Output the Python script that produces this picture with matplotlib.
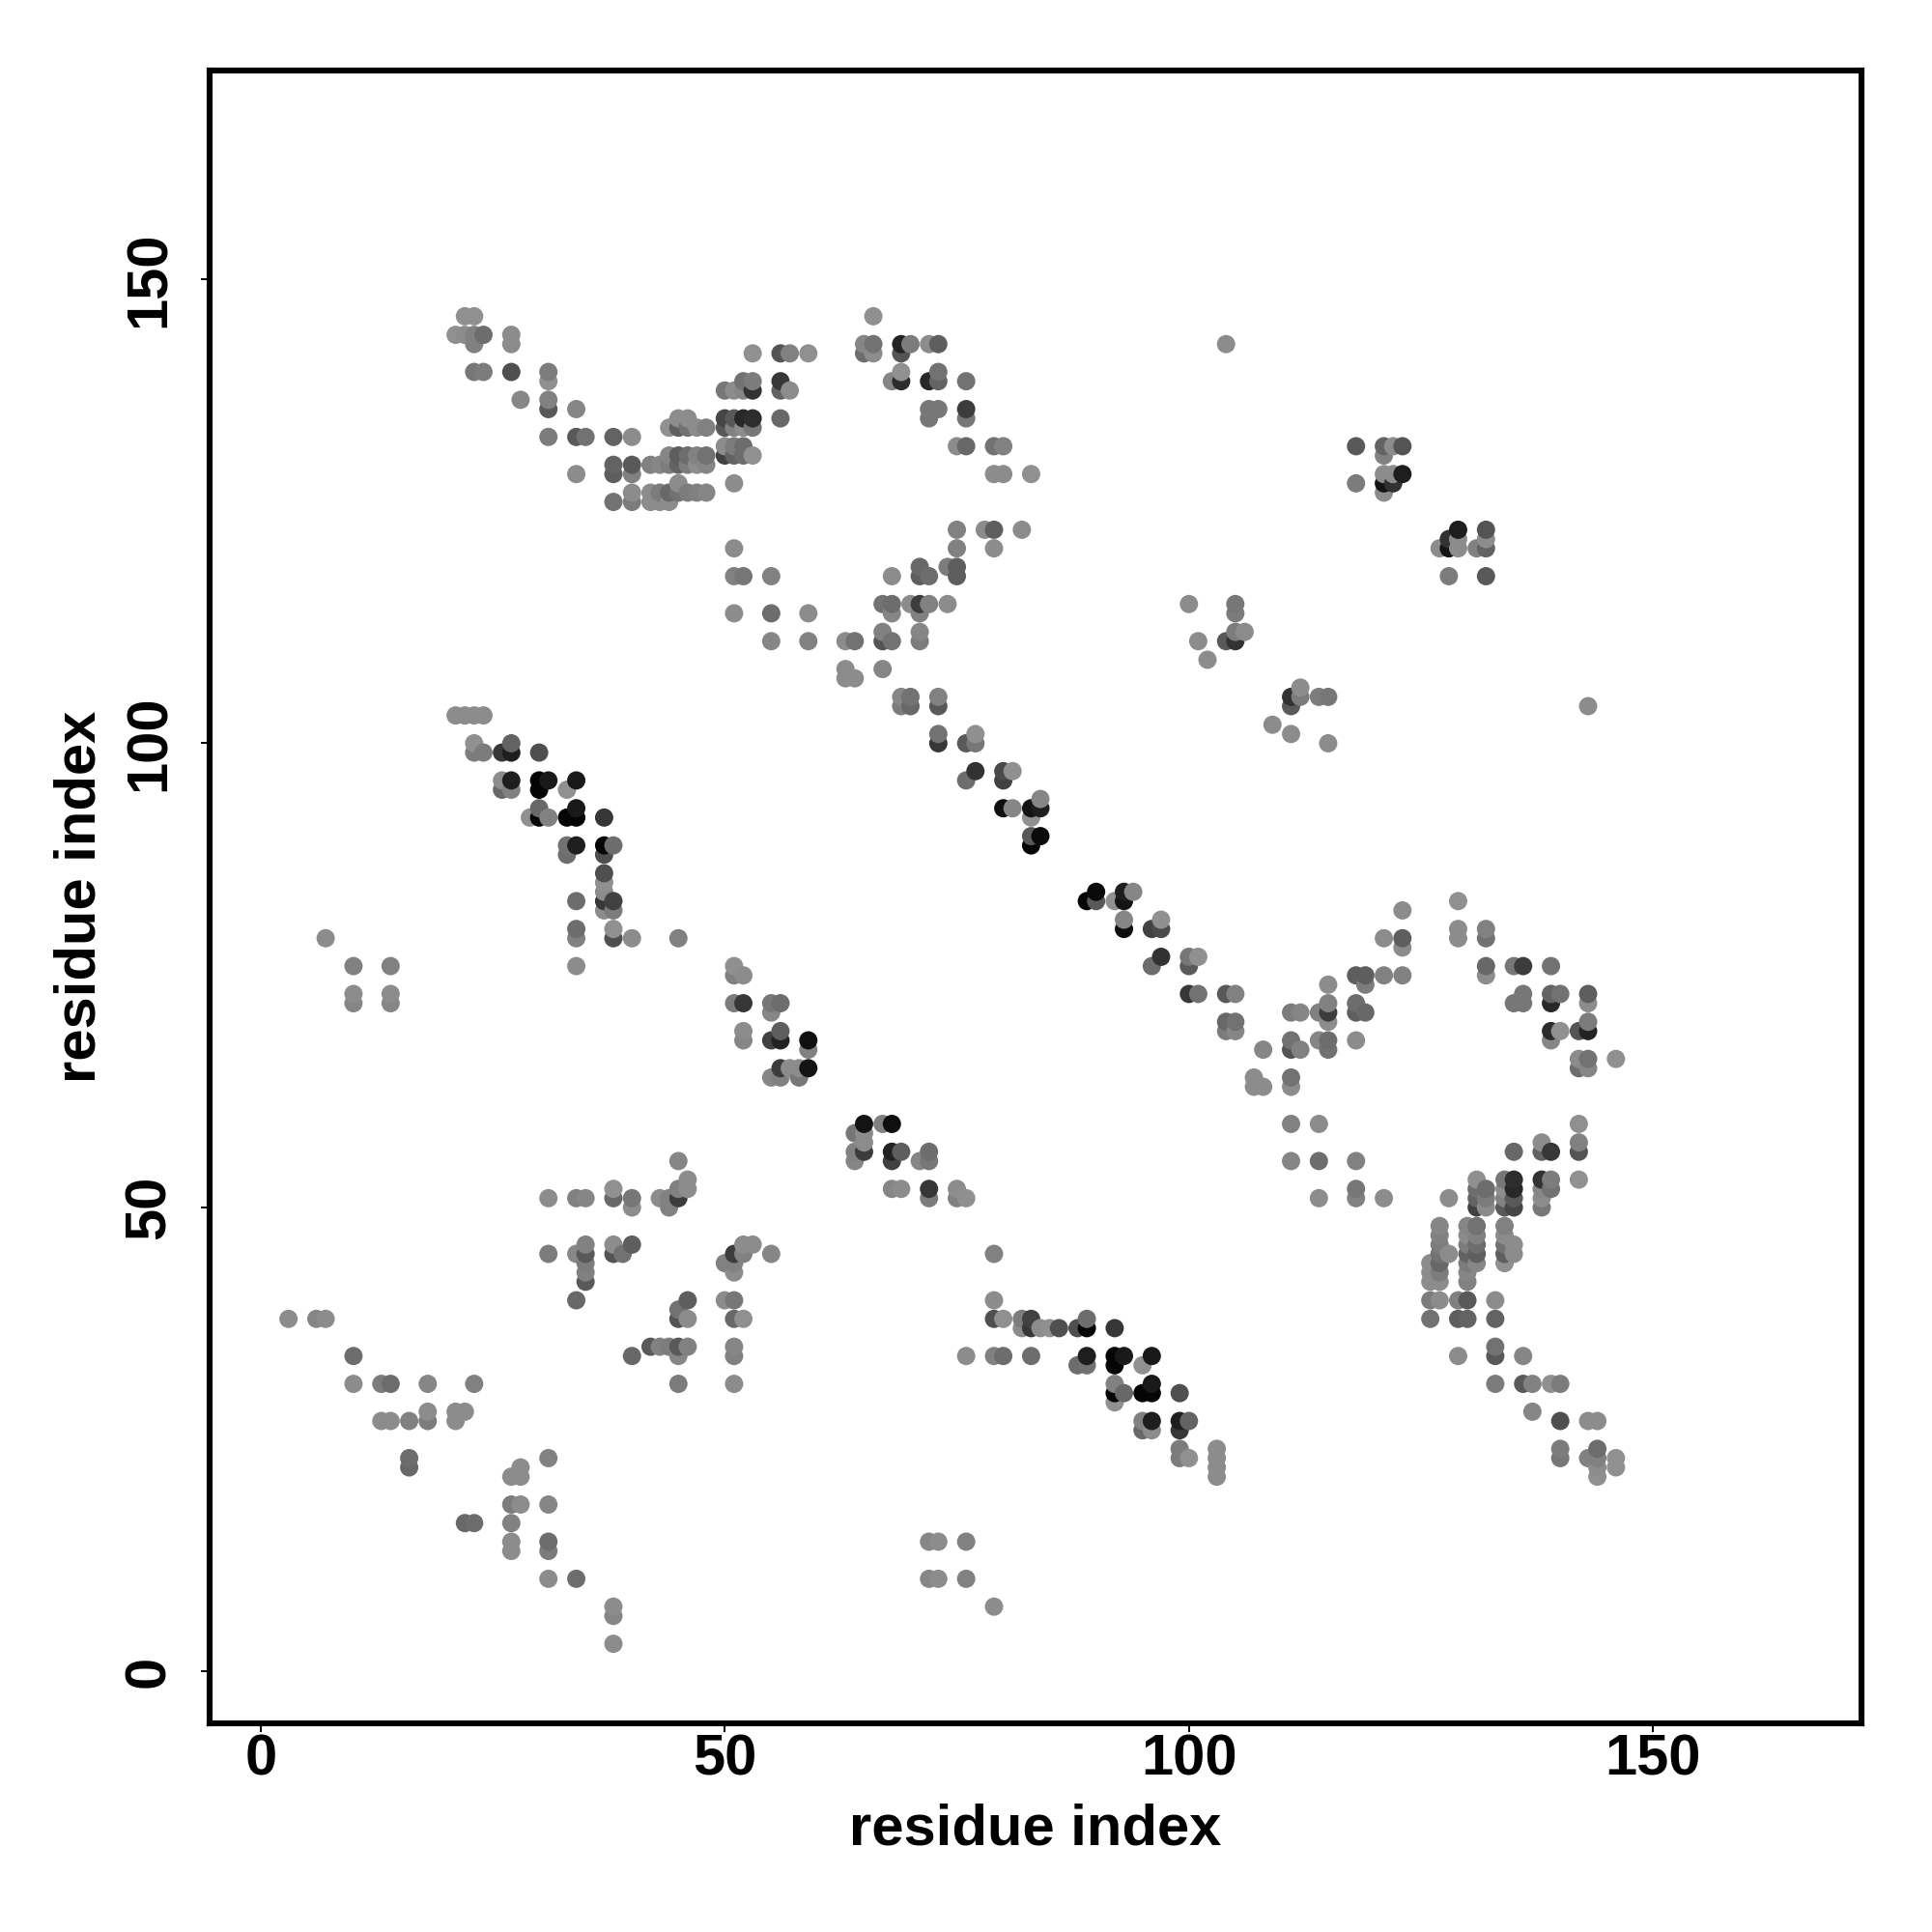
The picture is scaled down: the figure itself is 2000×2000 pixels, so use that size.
#!/usr/bin/env python
# -*- coding:utf-8 -*-
"""
Residue contact map, greys show the contact score
"""

import matplotlib
matplotlib.use('Agg')
import matplotlib.pyplot as plt
import pandas as pd

# one entry per row of the map (upper triangle), the map is symmetric
row_index = [146, 144, 143, 142, 140, 139, 138, 137, 136, 135, 134, 133, 132, 131, 130, 129,
             128, 127, 126, 123, 122, 121, 119, 118, 115, 114, 112, 111, 109, 108, 107, 106,
             105, 104, 103, 102, 101, 100, 99, 97, 96, 95, 94, 93, 92, 90, 89, 88, 86, 85,
             84, 83, 82, 81, 80, 79, 78, 77, 76, 75, 74, 73, 72, 71, 70, 69, 68, 67, 66, 65,
             64, 63, 55, 53, 52, 51, 50, 46, 45, 44, 43, 42, 40, 38, 34, 31, 28, 27, 23, 22]

row_members = [
    [22, 23, 66],
    [21, 22, 23, 24, 27],
    [23, 27, 65, 66, 69, 70, 72, 73, 104],
    [53, 56, 57, 59, 65, 66, 69],
    [23, 24, 27, 31, 69, 73],
    [31, 52, 53, 56, 68, 69, 72, 73, 76],
    [50, 51, 52, 53, 56, 57],
    [28, 31],
    [31, 34, 72, 73, 76],
    [45, 46, 50, 51, 52, 53, 56, 72, 76],
    [44, 45, 46, 47, 48, 50, 51, 52, 53],
    [31, 34, 35, 38, 40],
    [50, 51, 52, 75, 76, 79, 80, 118, 121, 122, 123],
    [44, 45, 46, 47, 48, 50, 51, 52, 53, 121],
    [38, 40, 42, 43, 44, 45, 46, 47, 48],
    [34, 38, 40, 79, 80, 83, 121, 122, 123],
    [45, 51, 118, 121, 122],
    [40, 42, 43, 44, 45, 46, 47, 48, 121],
    [38, 40, 42, 43, 44],
    [75, 78, 79, 82, 129, 132],
    [128, 129, 132],
    [51, 75, 79, 127, 128, 129, 131, 132],
    [71, 74, 75],
    [51, 52, 55, 68, 71, 72, 75, 128, 132],
    [67, 68, 70, 71, 72, 74, 100, 105],
    [51, 55, 59, 68, 71, 105],
    [67, 71, 105, 106],
    [55, 59, 63, 64, 67, 68, 71, 101, 104, 105],
    [102],
    [63, 67],
    [63, 64],
    [112],
    [69, 70, 73, 111, 112, 114, 115],
    [69, 70, 73, 111, 143],
    [21, 22, 23, 24],
    [109],
    [73, 77, 111],
    [23, 27, 73, 76, 77, 115],
    [23, 24, 26, 27, 30],
    [77, 80, 81],
    [26, 27, 30, 31, 34, 76, 80],
    [26, 27, 30, 33],
    [84],
    [30, 34, 80, 81, 83, 84],
    [29, 30, 31, 33, 34, 37, 83],
    [83, 84],
    [33, 34, 37, 38, 83],
    [33, 37],
    [37],
    [37],
    [37, 90, 93, 94],
    [34, 37, 38, 89, 90, 92, 93, 129],
    [37, 38, 123],
    [93, 97],
    [34, 38, 93, 96, 97, 129, 132],
    [7, 34, 38, 40, 45, 121, 123, 129, 132],
    [123],
    [97, 100, 101],
    [10, 14, 34, 51, 96, 100, 132, 135, 136, 139],
    [51, 52, 118, 119, 121, 123, 132],
    [115, 119],
    [10, 14, 100, 101, 104, 105, 136, 139, 140, 143],
    [10, 14, 51, 52, 55, 56, 115, 118, 135, 136, 139, 143],
    [55, 111, 112, 114, 115, 118, 119],
    [104, 105, 115, 143],
    [52, 56, 104, 105, 139, 140, 142, 143],
    [52, 55, 56, 59, 111, 114, 115, 118, 139],
    [59, 108, 111, 112, 115],
    [142, 143, 146],
    [56, 57, 58, 59, 142, 143],
    [55, 56, 58, 107, 111],
    [107, 108, 111],
    [45],
    [46],
    [38, 45, 46],
    [31, 34, 35, 38, 40, 43, 44, 45],
    [40, 44],
    [35, 38, 40],
    [31, 34, 35, 38, 39],
    [35],
    [35],
    [35],
    [34],
    [3, 6, 7],
    [10],
    [10, 13, 14, 18, 23],
    [18, 21, 22],
    [13, 14, 16, 18, 21],
    [16],
    [16],
]

# grey level of each contact, 0 black .. 255 white
row_gray = [
    [144, 144, 144],
    [144, 140, 129, 109, 140],
    [129, 140, 134, 114, 35, 124, 140, 94, 140],
    [144, 84, 129, 144, 109, 140, 84],
    [119, 124, 79, 124, 144, 114],
    [144, 114, 124, 55, 134, 45, 40, 99, 114],
    [119, 140, 134, 50, 99, 140],
    [134, 129],
    [89, 134, 119, 119, 60],
    [140, 140, 70, 89, 40, 45, 104, 119, 119],
    [144, 94, 114, 140, 129, 89, 129, 140, 119],
    [124, 89, 114, 99, 140],
    [140, 124, 109, 140, 104, 114, 129, 89, 99, 140, 84],
    [134, 94, 109, 129, 114, 65, 99, 109, 144, 129],
    [99, 89, 129, 134, 124, 99, 124, 140, 134],
    [140, 94, 129, 140, 140, 144, 140, 140, 30],
    [140, 140, 124, 20, 50],
    [140, 140, 124, 104, 114, 124, 129, 134, 140],
    [114, 124, 140, 140, 140],
    [129, 140, 94, 140, 30, 79],
    [50, 140, 140],
    [140, 129, 140, 140, 25, 140, 129, 89],
    [104, 124, 94],
    [129, 119, 129, 140, 94, 109, 94, 129, 89],
    [114, 109, 140, 60, 129, 140, 140, 119],
    [140, 109, 140, 134, 129, 124],
    [129, 134, 124, 140],
    [134, 129, 140, 114, 84, 114, 124, 140, 89, 50],
    [140],
    [140, 134],
    [140, 140],
    [140],
    [134, 114, 129, 55, 114, 129, 114],
    [124, 104, 89, 94, 140],
    [140, 140, 140, 140],
    [140],
    [114, 144, 140],
    [144, 99, 55, 89, 119, 140],
    [124, 124, 55, 30, 79],
    [50, 74, 144],
    [140, 30, 5, 25, 25, 109, 65],
    [104, 129, 5, 144],
    [134],
    [104, 25, 15, 134, 20, 30],
    [144, 5, 129, 5, 5, 55, 144],
    [89, 10],
    [114, 30, 5, 109, 5],
    [109, 79],
    [79],
    [144],
    [140, 10, 30, 134],
    [109, 55, 65, 5, 84, 144, 25, 140],
    [140, 124, 134],
    [134, 140],
    [109, 144, 15, 60, 60, 140, 119],
    [140, 129, 79, 140, 129, 134, 89, 140, 94],
    [140],
    [50, 124, 134],
    [129, 129, 140, 144, 104, 84, 99, 119, 55, 109],
    [129, 140, 89, 79, 119, 129, 129],
    [140, 114],
    [140, 140, 50, 109, 94, 114, 119, 104, 114, 94],
    [134, 134, 124, 55, 119, 109, 129, 119, 119, 119, 40, 140],
    [134, 129, 134, 134, 55, 89, 99],
    [114, 109, 134, 129],
    [140, 94, 134, 134, 35, 134, 84, 25],
    [134, 65, 35, 15, 119, 140, 104, 140, 119],
    [129, 140, 74, 124, 109],
    [134, 114, 140],
    [60, 140, 140, 20, 99, 129],
    [134, 129, 119, 140, 104],
    [140, 140, 140],
    [134],
    [140],
    [144, 129, 140],
    [140, 129, 134, 104, 119, 140, 129, 60],
    [140, 129],
    [129, 140, 94],
    [124, 134, 89, 84, 114],
    [124],
    [129],
    [89],
    [104],
    [140, 134, 140],
    [109],
    [140, 124, 109, 134, 129],
    [140, 140, 140],
    [140, 140, 129, 124, 140],
    [109],
    [104],
]

tick_values = [0, 50, 100, 150]

# long form table, each contact shows up as (i, j) and (j, i)
records = []
for j, members, grays in zip(row_index, row_members, row_gray):
    for i, g in zip(members, grays):
        records.append((i, j, g))
        records.append((j, i, g))
df = pd.DataFrame(records, columns=['x', 'y', 'gray']).drop_duplicates(['x', 'y'])
df = df.sort_values(['x', 'y'])
colors = [(g / 255, g / 255, g / 255) for g in df['gray']]

plt.rcParams['font.family'] = ['Liberation Sans', 'DejaVu Sans']
plt.rcParams['font.weight'] = 'bold'

fig = plt.figure(figsize=(20, 20), dpi=100)
ax = fig.add_axes([216.5 / 2000, 1 - 1784 / 2000, 1710.5 / 2000, 1711 / 2000])

ax.scatter(df['x'], df['y'], s=186, c=colors, linewidths=0, zorder=3)

ax.set_xlim(-5.55, 172.45)
ax.set_ylim(-5.57, 172.47)
ax.set_xticks(tick_values)
ax.set_yticks(tick_values)
ax.tick_params(axis='x', length=6.4, width=1.4, pad=1.5, labelsize=43)
ax.tick_params(axis='y', length=6.4, width=1.4, pad=18, labelsize=43)
for label in ax.get_yticklabels():
    label.set_rotation(90)
    label.set_va('center')

for side in ax.spines.values():
    side.set_linewidth(4.4)

ax.set_xlabel('residue index', fontsize=43, fontweight='bold', labelpad=12)
ax.set_ylabel('residue index', fontsize=43, fontweight='bold', labelpad=12)

plt.savefig('out.png', dpi=100)
